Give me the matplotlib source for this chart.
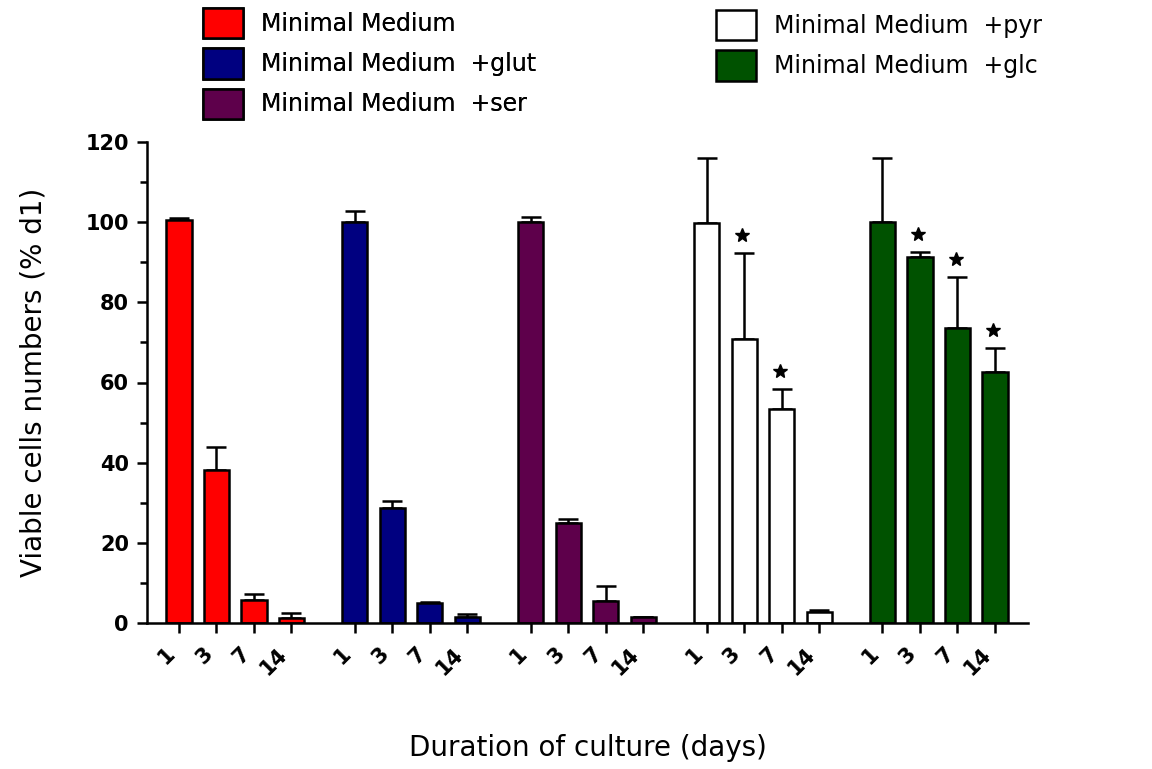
import matplotlib.pyplot as plt
import numpy as np

groups = ["Minimal Medium", "Minimal Medium  +glut", "Minimal Medium  +ser",
          "Minimal Medium  +pyr", "Minimal Medium  +glc"]
days = ["1", "3", "7", "14"]

mm_mean = [100.5, 38.2, 5.7, 1.2]
mm_err = [0.5, 5.8, 1.5, 1.3]
glut_mean = [100.0, 28.8, 4.9, 1.6]
glut_err = [2.9, 1.6, 0.3, 0.6]
ser_mean = [100.0, 24.9, 5.5, 1.4]
ser_err = [1.4, 1.0, 3.7, 0.2]
pyr_mean = [99.9, 70.9, 53.4, 2.7]
pyr_err = [16.0, 21.3, 5.0, 0.5]
glc_mean = [100.0, 91.2, 73.7, 62.5]
glc_err = [16.0, 1.3, 12.6, 6.2]

# significance stars (day 3, 7, 14)
pyr_sig = [False, True, True, False]
glc_sig = [False, True, True, True]
mm_sig = ser_sig = glut_sig = [False] * 4

colors = ["#ff0000", "#000080", "#5e004b", "#ffffff", "#005200"]


def main():
    plt.rcParams["font.family"] = ["DejaVu Sans"]
    fig = plt.figure(figsize=(11.52, 7.69), dpi=100)
    ax = fig.add_axes([147 / 1152, 1 - 623 / 769, 881 / 1152, 481 / 769])

    means = [mm_mean, glut_mean, ser_mean, pyr_mean, glc_mean]
    errs = [mm_err, glut_err, ser_err, pyr_err, glc_err]
    sigs = [mm_sig, glut_sig, ser_sig, pyr_sig, glc_sig]

    gap = 4.69
    ticks, ticklabels = [], []
    handles = []
    for g, (name, m, e, s, c) in enumerate(zip(groups, means, errs, sigs, colors)):
        x = g * gap + np.arange(len(days))
        m = np.array(m)
        e = np.array(e)
        bars = ax.bar(x, m, width=0.67, color=c, edgecolor="black", linewidth=1.8,
                      label=name, zorder=2)
        ax.errorbar(x, m, yerr=[np.zeros_like(e), e], fmt="none", ecolor="black",
                    elinewidth=1.8, capsize=7, capthick=1.8, zorder=1)
        for xi, mi, ei, si in zip(x, m, e, s):
            if si:
                ax.plot(xi - 0.05, mi + ei + 4.5, marker="*", color="black",
                        markersize=10, linestyle="none")
        handles.append(bars)
        ticks.extend(x)
        ticklabels.extend(days)

    ax.set_xlim(-0.853, 22.64)
    ax.set_ylim(0, 120)
    ax.set_yticks(np.arange(0, 121, 20))
    ax.set_yticks(np.arange(0, 121, 10), minor=True)
    ax.set_xticks(ticks)
    ax.set_xticklabels(ticklabels, rotation=45, ha="right", va="top",
                       fontsize=15, fontweight="bold")
    for lab in ax.get_yticklabels():
        lab.set_fontsize(15)
        lab.set_fontweight("bold")

    ax.spines["top"].set_visible(False)
    ax.spines["right"].set_visible(False)
    ax.spines["left"].set_linewidth(1.8)
    ax.spines["bottom"].set_linewidth(1.8)
    ax.tick_params(axis="both", which="major", length=7, width=1.8, direction="out")
    ax.tick_params(axis="y", which="minor", length=5, width=1.8)
    ax.tick_params(axis="x", pad=8)
    ax.tick_params(axis="y", pad=6)

    ax.set_ylabel("Viable cells numbers (% d1)", fontsize=20)
    ax.yaxis.set_label_coords(-0.129, 0.5)
    ax.yaxis.label.set_va("center")
    ax.set_xlabel("Duration of culture (days)", fontsize=20)
    ax.xaxis.set_label_coords(0.5, -0.26)
    ax.xaxis.label.set_va("center")

    leg_kw = dict(frameon=False, fontsize=17, handlelength=1.7, handleheight=1.6,
                  handletextpad=0.75, labelspacing=0.42, borderpad=0, borderaxespad=0)
    leg1 = fig.legend(handles[:3], groups[:3], loc="upper left",
                      bbox_to_anchor=(203 / 1152, 1 - 8 / 769), **leg_kw)
    fig.legend(handles[3:], groups[3:], loc="upper left",
               bbox_to_anchor=(716 / 1152, 1 - 10 / 769), **leg_kw)
    fig.add_artist(leg1)

    fig.savefig("out.png", dpi=100)
    plt.close(fig)


if __name__ == "__main__":
    main()
